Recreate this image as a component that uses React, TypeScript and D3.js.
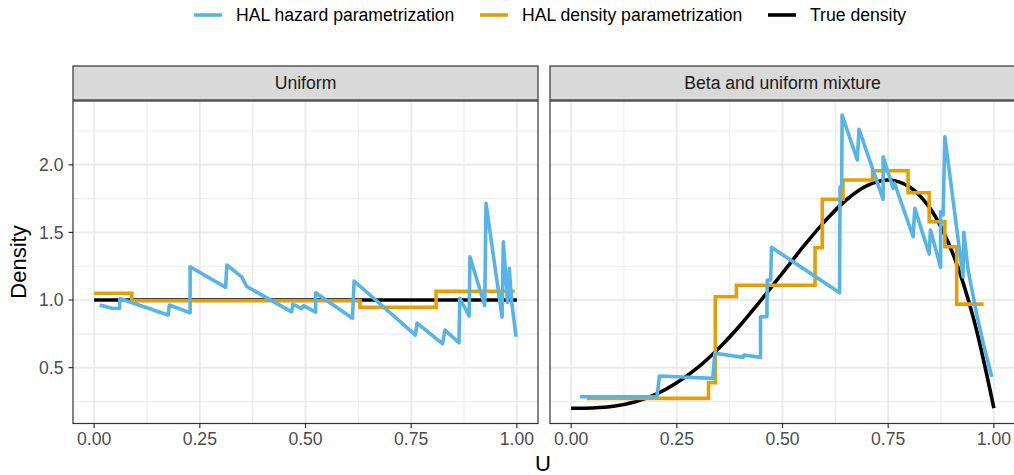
import * as d3 from "d3";

// facet labels
const panelTitles = ["Uniform", "Beta and uniform mixture"];

// legend
const seriesNames = [
  "HAL hazard parametrization",
  "HAL density parametrization",
  "True density",
];
const seriesColors = ["#56B4E9", "#E69F00", "#000000"];

// ticks
const xTicks = [0, 0.25, 0.5, 0.75, 1];
const xMinor = [0.125, 0.375, 0.625, 0.875];
const yTicks = [0.5, 1.0, 1.5, 2.0];
const yMinor = [0.25, 0.75, 1.25, 1.75, 2.25];

// Uniform panel
const uniformHazard: [number, number][] = [
  [0.013, 0.963], [0.042, 0.939], [0.06, 0.937], [0.061, 1.011],
  [0.175, 0.889], [0.178, 0.963], [0.227, 0.906], [0.227, 1.246],
  [0.311, 1.094], [0.314, 1.259], [0.349, 1.172], [0.361, 1.1],
  [0.467, 0.913], [0.47, 0.97], [0.491, 0.937], [0.495, 0.959],
  [0.524, 0.911], [0.524, 1.054], [0.611, 0.865], [0.615, 1.141],
  [0.76, 0.741], [0.764, 0.83], [0.824, 0.677], [0.83, 0.778],
  [0.863, 0.684], [0.865, 1.013], [0.887, 0.882], [0.889, 1.32],
  [0.924, 0.959], [0.927, 1.715], [0.965, 0.874], [0.968, 1.431],
  [0.978, 0.982], [0.982, 1.234], [0.988, 0.982], [0.998, 0.729],
];
const uniformDensityU = [0.0, 0.089, 0.629, 0.809, 0.995];
const uniformDensityD = [1.05, 0.995, 0.946, 1.064, 1.064];
const uniformTrue: [number, number][] = [[0, 1], [1, 1]];

// Beta and uniform mixture panel
const mixtureHazard: [number, number][] = [
  [0.021, 0.285], [0.203, 0.285], [0.209, 0.438], [0.335, 0.421],
  [0.34, 0.606], [0.407, 0.576], [0.409, 0.593], [0.448, 0.576],
  [0.448, 0.876], [0.463, 0.876], [0.464, 1.148], [0.472, 1.148],
  [0.474, 1.39], [0.635, 1.054], [0.636, 1.836], [0.64, 1.843],
  [0.641, 2.368], [0.677, 2.036], [0.681, 2.263], [0.738, 1.745],
  [0.738, 2.06], [0.762, 1.826], [0.765, 1.865], [0.809, 1.468],
  [0.813, 1.678], [0.847, 1.34], [0.85, 1.518], [0.874, 1.242],
  [0.874, 1.653], [0.88, 1.63], [0.884, 2.208], [0.927, 1.172],
  [0.929, 1.501], [0.939, 1.222], [0.959, 0.902], [0.976, 0.667],
  [0.995, 0.433],
];
const mixtureDensityU = [
  0.037, 0.325, 0.341, 0.391, 0.577, 0.594, 0.643, 0.713, 0.797, 0.847,
  0.884, 0.912, 0.976,
];
const mixtureDensityD = [
  0.273, 0.388, 1.024, 1.109, 1.387, 1.745, 1.888, 1.956, 1.794, 1.579,
  1.394, 0.97, 0.97,
];
const mixtureTrueU = [
  0, 0.05, 0.1, 0.15, 0.2, 0.25, 0.3, 0.35, 0.4, 0.45, 0.5, 0.55, 0.6, 0.65,
  0.7, 0.75, 0.8, 0.85, 0.9, 0.95, 1.0,
];
const mixtureTrueD = [
  0.2, 0.202, 0.214, 0.246, 0.302, 0.388, 0.502, 0.646, 0.814, 1.002, 1.2,
  1.398, 1.582, 1.738, 1.846, 1.888, 1.838, 1.674, 1.366, 0.886, 0.2,
];

const panelsData = [
  {
    hazard: uniformHazard,
    density: uniformDensityU.map((u, i) => [u, uniformDensityD[i]] as [number, number]),
    truth: uniformTrue,
  },
  {
    hazard: mixtureHazard,
    density: mixtureDensityU.map((u, i) => [u, mixtureDensityD[i]] as [number, number]),
    truth: mixtureTrueU.map((u, i) => [u, mixtureTrueD[i]] as [number, number]),
  },
];

const W = 1014;
const H = 475;
const panelLefts = [73, 550];
const panelW = 465;
const panelTop = 101;
const panelBottom = 423.5;
const stripTop = 66;
const stripBottom = 100;
const font = "'Liberation Sans', Arial, Helvetica, sans-serif";
const lineW = 3.6;

export default function App() {
  const y = d3.scaleLinear().domain([0.087, 2.472]).range([panelBottom, panelTop]);

  return (
    <svg
      width={W}
      height={H}
      style={{ position: "absolute", left: 0, top: 0, background: "#fff" }}
      fontFamily={font}
    >
      {/* Legend */}
      {[194, 480, 768].map((lx, i) => (
        <g key={seriesNames[i]}>
          <line x1={lx} x2={lx + 28} y1={15} y2={15} stroke={seriesColors[i]} strokeWidth={lineW} />
          <text x={lx + 42} y={21} fontSize={17.6} fill="#000">
            {seriesNames[i]}
          </text>
        </g>
      ))}

      {panelsData.map((p, pi) => {
        const left = panelLefts[pi];
        const x = d3.scaleLinear().domain([-0.05, 1.05]).range([left, left + panelW]);
        const line = d3
          .line<[number, number]>()
          .x((d) => x(d[0]))
          .y((d) => y(d[1]));
        const step = d3
          .line<[number, number]>()
          .x((d) => x(d[0]))
          .y((d) => y(d[1]))
          .curve(d3.curveStepAfter);
        const smooth = d3
          .line<[number, number]>()
          .x((d) => x(d[0]))
          .y((d) => y(d[1]))
          .curve(pi === 0 ? d3.curveLinear : d3.curveCatmullRom);
        return (
          <g key={panelTitles[pi]}>
            <rect x={left} y={panelTop} width={panelW} height={panelBottom - panelTop} fill="#fff" />
            {xMinor.map((v) => (
              <line key={"xm" + v} x1={x(v)} x2={x(v)} y1={panelTop} y2={panelBottom} stroke="#EBEBEB" strokeWidth={1.1} />
            ))}
            {yMinor.map((v) => (
              <line key={"ym" + v} x1={left} x2={left + panelW} y1={y(v)} y2={y(v)} stroke="#EBEBEB" strokeWidth={1.1} />
            ))}
            {xTicks.map((v) => (
              <line key={"xg" + v} x1={x(v)} x2={x(v)} y1={panelTop} y2={panelBottom} stroke="#EBEBEB" strokeWidth={2} />
            ))}
            {yTicks.map((v) => (
              <line key={"yg" + v} x1={left} x2={left + panelW} y1={y(v)} y2={y(v)} stroke="#EBEBEB" strokeWidth={2} />
            ))}

            <path d={smooth(p.truth) || ""} fill="none" stroke={seriesColors[2]} strokeWidth={lineW} />
            <path d={step(p.density) || ""} fill="none" stroke={seriesColors[1]} strokeWidth={lineW} strokeLinejoin="miter" />
            <path d={line(p.hazard) || ""} fill="none" stroke={seriesColors[0]} strokeWidth={lineW} strokeLinejoin="round" />

            <rect x={left} y={panelTop} width={panelW} height={panelBottom - panelTop} fill="none" stroke="#333333" strokeWidth={1.2} />

            {/* strip */}
            <rect x={left} y={stripTop} width={panelW} height={stripBottom - stripTop} fill="#D9D9D9" stroke="#333333" strokeWidth={1.2} />
            <text x={left + panelW / 2} y={89} textAnchor="middle" fontSize={17.6} fill="#1A1A1A">
              {panelTitles[pi]}
            </text>

            {/* x axis */}
            {xTicks.map((v) => (
              <g key={"xt" + v}>
                <line x1={x(v)} x2={x(v)} y1={panelBottom} y2={panelBottom + 4.5} stroke="#333333" strokeWidth={1.2} />
                <text x={x(v)} y={444.5} textAnchor="middle" fontSize={17.6} fill="#4D4D4D">
                  {d3.format(".2f")(v)}
                </text>
              </g>
            ))}

            {/* y axis on first panel */}
            {pi === 0 &&
              yTicks.map((v) => (
                <g key={"yt" + v}>
                  <line x1={left - 4.5} x2={left} y1={y(v)} y2={y(v)} stroke="#333333" strokeWidth={1.2} />
                  <text x={left - 9.5} y={y(v) + 6.3} textAnchor="end" fontSize={17.6} fill="#4D4D4D">
                    {d3.format(".1f")(v)}
                  </text>
                </g>
              ))}
          </g>
        );
      })}

      {/* axis titles */}
      <text x={543} y={471} textAnchor="middle" fontSize={22} fill="#000">
        U
      </text>
      <text transform="translate(26,262) rotate(-90)" textAnchor="middle" fontSize={22} fill="#000">
        Density
      </text>
    </svg>
  );
}
